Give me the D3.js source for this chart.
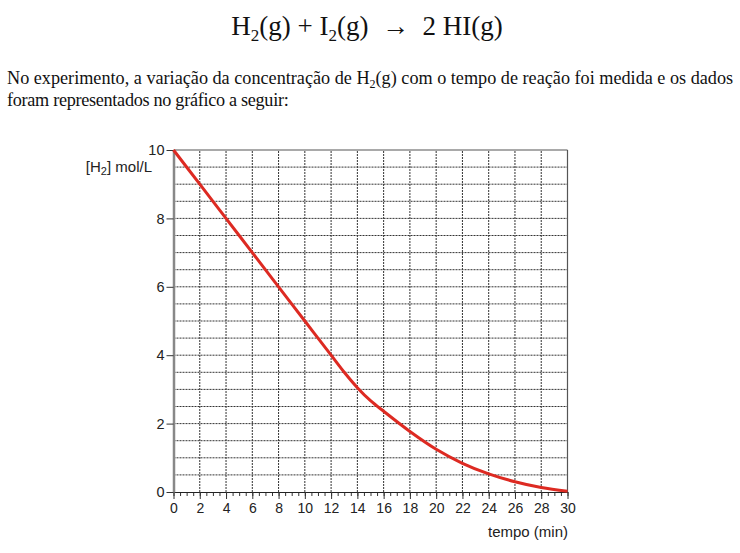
<!DOCTYPE html>
<html>
<head>
<meta charset="utf-8">
<script src="https://cdn.jsdelivr.net/npm/d3@7"></script>
<style>
  body { margin: 0; background: #fff; }
</style>
</head>
<body>
<div id="chart"></div>
<script>
// data
let times = [0, 2, 4, 6, 8, 10, 12, 13, 14, 15, 16, 18, 20, 22, 24, 26, 28, 30];
let concH2 = [10, 9, 8, 7, 6, 5, 4, 3.5, 3.05, 2.67, 2.36, 1.77, 1.25, 0.84, 0.53, 0.3, 0.13, 0.02];
let xTicks = [0, 2, 4, 6, 8, 10, 12, 14, 16, 18, 20, 22, 24, 26, 28, 30];
let yTicks = [0, 2, 4, 6, 8, 10];

let width = 740, height = 553;

let svg = d3.select("#chart").append("svg")
    .attr("width", width)
    .attr("height", height);

let x = d3.scaleLinear().domain([0, 30]).range([173.5, 567.5]);
let y = d3.scaleLinear().domain([0, 10]).range([492, 150]);

let serif = "'Liberation Serif', 'Times New Roman', serif";
let sans = "'Liberation Sans', Arial, sans-serif";

// header text
let title = svg.append("text")
    .attr("x", 367).attr("y", 35)
    .attr("text-anchor", "middle")
    .style("font-family", serif)
    .style("font-size", "27px")
    .attr("fill", "#111");
title.append("tspan").text("H");
title.append("tspan").attr("dy", 6).style("font-size", "17px").text("2");
title.append("tspan").attr("dy", -6).text("(g) + I");
title.append("tspan").attr("dy", 6).style("font-size", "17px").text("2");
title.append("tspan").attr("dy", -6).text("(g)\u00a0\u00a0\u2192\u00a0\u00a02 HI(g)");

let para1 = svg.append("text")
    .attr("x", 7).attr("y", 84)
    .style("font-family", serif)
    .style("font-size", "18.2px")
    .attr("fill", "#111");
para1.append("tspan").text("No experimento, a variação da concentração de H");
para1.append("tspan").attr("dy", 4).style("font-size", "12px").text("2");
para1.append("tspan").attr("dy", -4).text("(g) com o tempo de reação foi medida e os dados");

svg.append("text")
    .attr("x", 7).attr("y", 106)
    .style("font-family", serif)
    .style("font-size", "18.2px")
    .style("letter-spacing", "-0.3px")
    .attr("fill", "#111")
    .text("foram representados no gráfico a seguir:");

// grid
let grid = svg.append("g");
grid.selectAll("line.v")
    .data(d3.range(2, 30, 2))
    .enter().append("line")
    .attr("class", "v")
    .attr("x1", d => x(d)).attr("x2", d => x(d))
    .attr("y1", y(0)).attr("y2", y(10))
    .attr("stroke", "#333")
    .attr("stroke-width", 1)
    .attr("stroke-dasharray", "2,1");

grid.selectAll("line.h")
    .data(d3.range(0.5, 10, 0.5))
    .enter().append("line")
    .attr("class", "h")
    .attr("x1", x(0)).attr("x2", x(30))
    .attr("y1", d => y(d)).attr("y2", d => y(d))
    .attr("stroke", "#333")
    .attr("stroke-width", 1)
    .attr("stroke-dasharray", "2,1");

// frame top and right
svg.append("line")
    .attr("x1", x(0)).attr("x2", x(30))
    .attr("y1", y(10)).attr("y2", y(10))
    .attr("stroke", "#555").attr("stroke-width", 1.2);
svg.append("line")
    .attr("x1", x(30)).attr("x2", x(30))
    .attr("y1", y(10)).attr("y2", y(0))
    .attr("stroke", "#555").attr("stroke-width", 1.2);

// axes
let minorAxis = svg.append("g")
    .attr("transform", "translate(0," + y(0) + ")")
    .call(d3.axisBottom(x).tickValues(d3.range(0, 30.01, 0.5)).tickSize(4).tickFormat(""));
minorAxis.select(".domain").remove();
minorAxis.selectAll("line").attr("stroke", "#333");

let xAxis = svg.append("g")
    .attr("transform", "translate(0," + y(0) + ")")
    .call(d3.axisBottom(x).tickValues(xTicks).tickSize(7).tickPadding(4).tickSizeOuter(0));
xAxis.select(".domain").attr("stroke", "#222").attr("stroke-width", 1.2);
xAxis.selectAll("line").attr("stroke", "#333");
xAxis.selectAll("text")
    .style("font-family", sans)
    .style("font-size", "14px")
    .attr("fill", "#222");

let yAxis = svg.append("g")
    .attr("transform", "translate(" + x(0) + ",0)")
    .call(d3.axisLeft(y).tickValues(yTicks).tickSize(7).tickPadding(2).tickSizeOuter(0));
yAxis.select(".domain").attr("stroke", "#888").attr("stroke-width", 2.5);
yAxis.selectAll("line").attr("stroke", "#333");
yAxis.selectAll("text")
    .style("font-family", sans)
    .style("font-size", "14.5px")
    .attr("fill", "#222");

// axis titles
let yTitle = svg.append("text")
    .attr("x", 152).attr("y", 172)
    .attr("text-anchor", "end")
    .style("font-family", sans)
    .style("font-size", "15px")
    .attr("fill", "#222");
yTitle.append("tspan").text("[H");
yTitle.append("tspan").attr("dy", 3).style("font-size", "11px").text("2");
yTitle.append("tspan").attr("dy", -3).text("] mol/L");

svg.append("text")
    .attr("x", 568).attr("y", 537)
    .attr("text-anchor", "end")
    .style("font-family", sans)
    .style("font-size", "15px")
    .attr("fill", "#222")
    .text("tempo (min)");

// curve
let line = d3.line()
    .x((d, i) => x(times[i]))
    .y(d => y(d))
    .curve(d3.curveCatmullRom.alpha(0.5));

svg.append("path")
    .datum(concH2)
    .attr("d", line)
    .attr("fill", "none")
    .attr("stroke", "#dd2a22")
    .attr("stroke-width", 3);
</script>
</body>
</html>
